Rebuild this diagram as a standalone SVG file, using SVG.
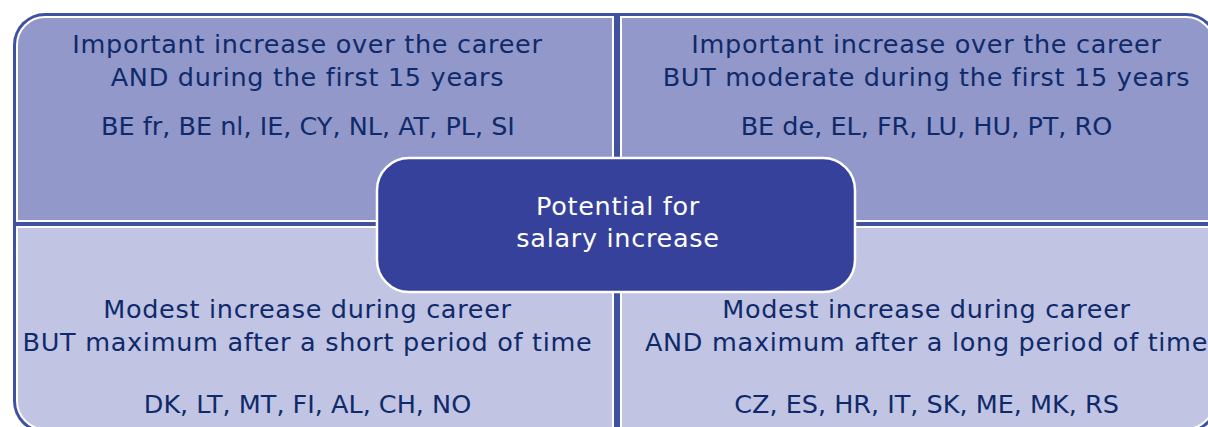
<svg xmlns="http://www.w3.org/2000/svg" width="1208" height="427" viewBox="0 0 1208 427">
  <style>
    .q { stroke: #ffffff; stroke-width: 2; }
    .top { fill: #9298c9; }
    .bot { fill: #c1c4e3; }
    .t { font-family: "DejaVu Sans", Verdana, sans-serif; font-size: 25.5px; letter-spacing: 0.7px; fill: #0f2a6b; text-anchor: middle; }
    .k { letter-spacing: 0px; }
    .c { font-family: "DejaVu Sans", Verdana, sans-serif; font-size: 25.5px; letter-spacing: 0.7px; fill: #ffffff; text-anchor: middle; }
  </style>
  <rect id="frame" x="13" y="13" width="1205" height="420" rx="32" fill="#4051a2"/>
  <g id="connectors"></g>
  <g id="q-top-left">
    <path class="q top" d="M17,221 V45 A28,28 0 0 1 45,17 H613 V221 Z"/>
    <text class="t" x="307.5" y="53">Important increase over the career</text>
    <text class="t" x="307.5" y="86">AND during the first 15 years</text>
    <text class="t k" x="308" y="135">BE fr, BE nl, IE, CY, NL, AT, PL, SI</text>
  </g>
  <g id="q-top-right">
    <path class="q top" d="M621,17 H1186 A28,28 0 0 1 1214,45 V221 H621 Z"/>
    <text class="t" x="926.5" y="53">Important increase over the career</text>
    <text class="t" x="926.5" y="86">BUT moderate during the first 15 years</text>
    <text class="t k" x="926.5" y="135">BE de, EL, FR, LU, HU, PT, RO</text>
  </g>
  <g id="q-bottom-left">
    <path class="q bot" d="M17,227 H613 V429 H45 A28,28 0 0 1 17,401 Z"/>
    <text class="t" x="307.5" y="318">Modest increase during career</text>
    <text class="t" x="307.5" y="351">BUT maximum after a short period of time</text>
    <text class="t k" x="307.5" y="413">DK, LT, MT, FI, AL, CH, NO</text>
  </g>
  <g id="q-bottom-right">
    <path class="q bot" d="M621,227 H1214 V401 A28,28 0 0 1 1186,429 H621 Z"/>
    <text class="t" x="926.5" y="318">Modest increase during career</text>
    <text class="t" x="926.5" y="351">AND maximum after a long period of time</text>
    <text class="t k" x="926.5" y="413">CZ, ES, HR, IT, SK, ME, MK, RS</text>
  </g>
  <g id="center">
    <rect x="377" y="158" width="478" height="134" rx="32" fill="#35419a" stroke="#ffffff" stroke-width="2.5"/>
    <text class="c" x="618" y="215">Potential for</text>
    <text class="c" x="618" y="247">salary increase</text>
  </g>
</svg>
